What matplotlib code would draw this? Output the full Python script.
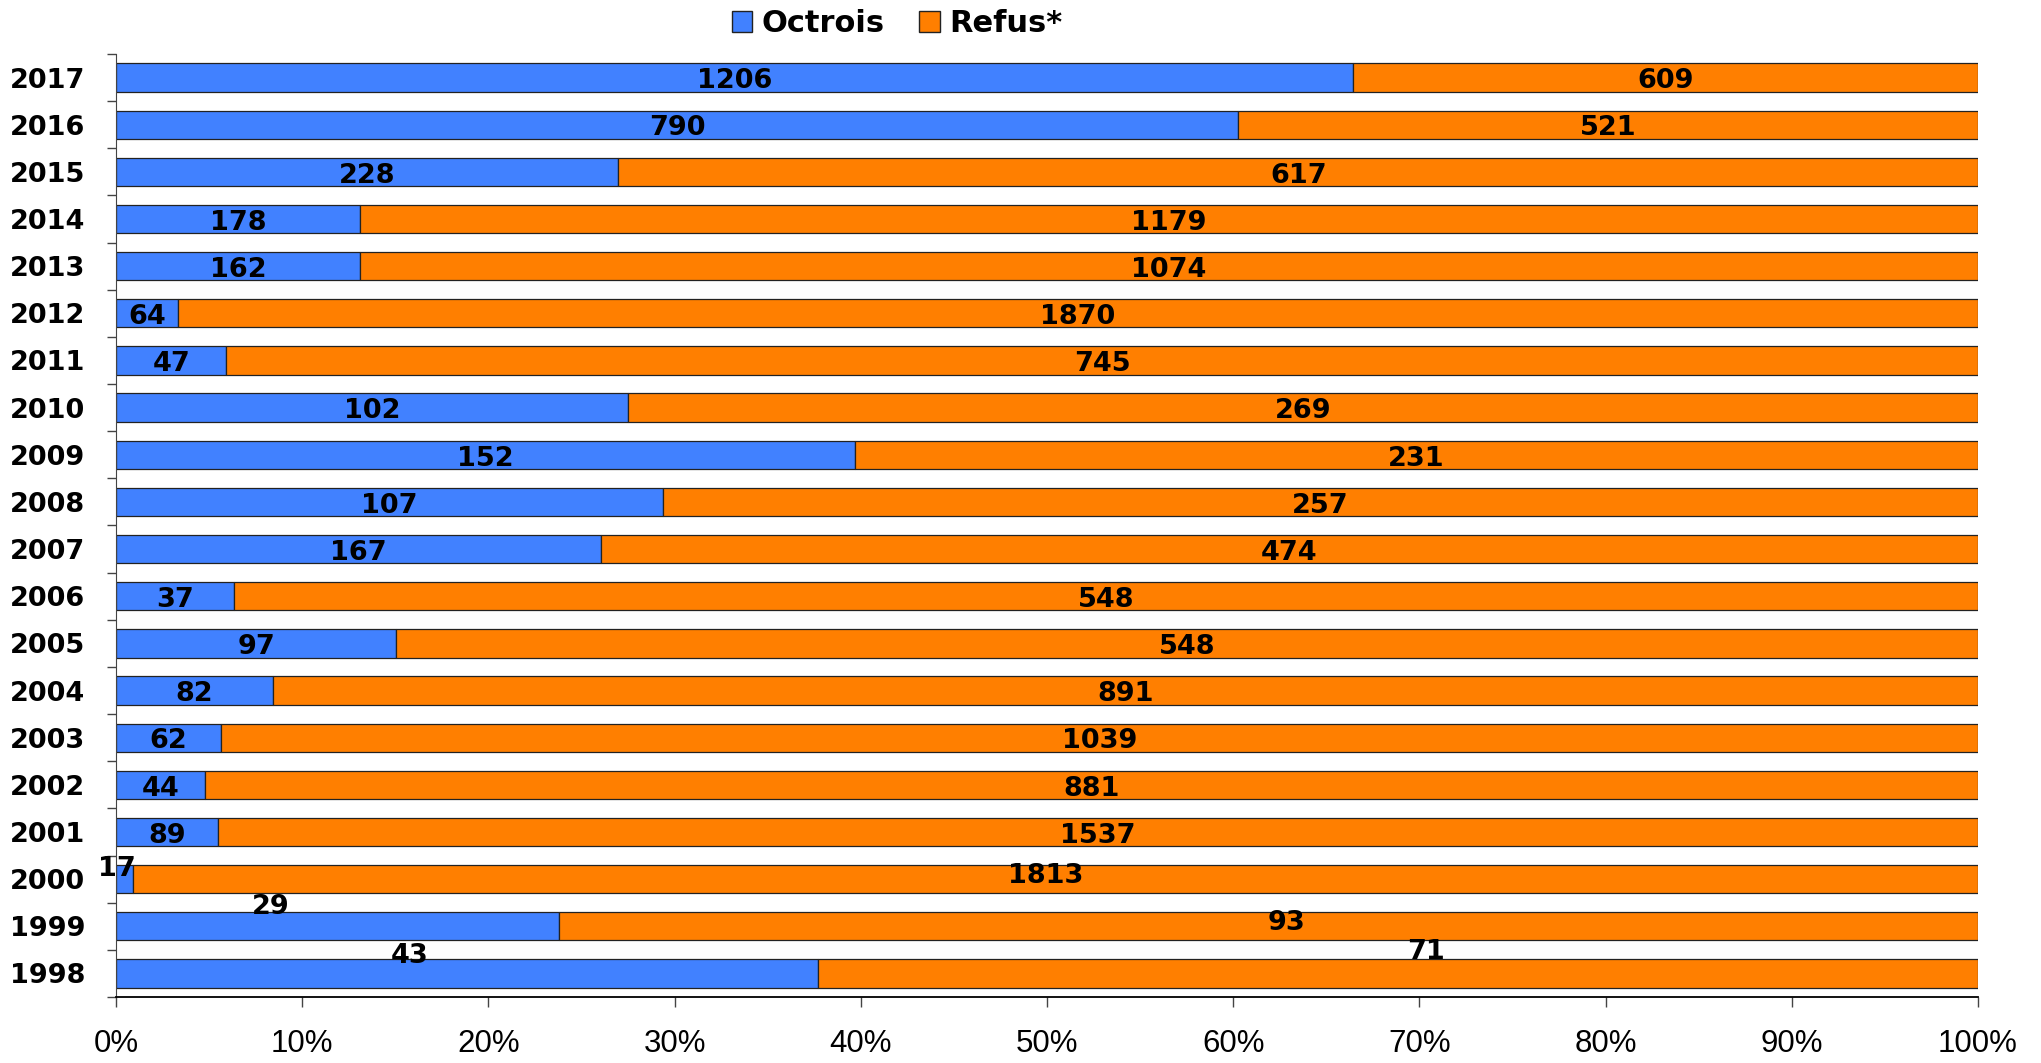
import numpy as np
import matplotlib
matplotlib.use('Agg')
import matplotlib.pyplot as plt
import matplotlib.ticker as mtick
from matplotlib.patches import Patch

# Data
years = ['1998', '1999', '2000', '2001', '2002', '2003', '2004', '2005', '2006', '2007',
         '2008', '2009', '2010', '2011', '2012', '2013', '2014', '2015', '2016', '2017']
octrois = [43, 29, 17, 89, 44, 62, 82, 97, 37, 167,
           107, 152, 102, 47, 64, 162, 178, 228, 790, 1206]
refus = [71, 93, 1813, 1537, 881, 1039, 891, 548, 548, 474,
         257, 231, 269, 745, 1870, 1074, 1179, 617, 521, 609]

blue = '#4181FF'
orange = '#FF7F00'

# a few labels sit off-centre in the original (dx in axis fraction, dy in rows)
nudge = {
    ('2000', 0): (-0.004, 0.21), ('2000', 1): (-0.0056, 0.06),
    ('1999', 0): (-0.036, 0.40), ('1999', 1): (0.010, 0.06),
    ('1998', 0): (-0.031, 0.36), ('1998', 1): (0.015, 0.45),
}

oct_arr = np.array(octrois, dtype=float)
ref_arr = np.array(refus, dtype=float)
total = oct_arr + ref_arr
p_oct = oct_arr / total
p_ref = ref_arr / total
y = np.arange(len(years))

fig = plt.figure(figsize=(20.41, 10.63), dpi=100)
ax = fig.add_axes([116 / 2041, 1 - 997 / 1063, (1978 - 116) / 2041, (997 - 54) / 1063])

ax.barh(y, p_oct, height=0.6, color=blue, edgecolor='#222222', linewidth=0.9)
ax.barh(y, p_ref, left=p_oct, height=0.6, color=orange, edgecolor='#222222', linewidth=0.9)

for i, yr in enumerate(years):
    centers = [p_oct[i] / 2, p_oct[i] + p_ref[i] / 2]
    vals = [octrois[i], refus[i]]
    for k in range(2):
        dx, dy = nudge.get((yr, k), (0.0, -0.08))
        ax.text(centers[k] + dx, y[i] + dy, str(vals[k]), ha='center', va='center',
                fontsize=19.5, fontweight='bold', family='DejaVu Sans', color='black')

ax.set_xlim(0, 1)
ax.set_ylim(-0.5, len(years) - 0.5)
ax.set_xticks(np.linspace(0, 1, 11))
ax.xaxis.set_major_formatter(mtick.PercentFormatter(xmax=1, decimals=0))
for lbl in ax.get_xticklabels():
    lbl.set_family('Liberation Sans')
    lbl.set_fontsize(22.5)
ax.tick_params(axis='x', direction='out', length=7.2, width=1, pad=16, color='#444444')

ax.set_yticks(y)
ax.set_yticklabels(years, fontsize=19.5, fontweight='bold', family='DejaVu Sans')
ax.set_yticks(np.arange(-0.5, len(years), 1.0), minor=True)
ax.tick_params(axis='y', which='major', length=0, pad=22)
ax.tick_params(axis='y', which='minor', direction='out', length=6.5, width=1, color='#444444')

for side in ['top', 'right']:
    ax.spines[side].set_visible(False)
ax.spines['left'].set_color('#444444')
ax.spines['bottom'].set_color('black')
ax.spines['bottom'].set_linewidth(1.3)

handles = [Patch(facecolor=blue, edgecolor='#222222', label='Octrois'),
           Patch(facecolor=orange, edgecolor='#222222', label='Refus*')]
fig.legend(handles=handles, loc='center', bbox_to_anchor=(897 / 2041, 1 - 24 / 1063),
           ncol=2, frameon=False, prop={'family': 'DejaVu Sans', 'weight': 'bold', 'size': 22},
           handlelength=0.67, handleheight=0.67, handletextpad=0.3, columnspacing=1.13,
           borderpad=0, borderaxespad=0)

fig.savefig('out.png', dpi=100)
